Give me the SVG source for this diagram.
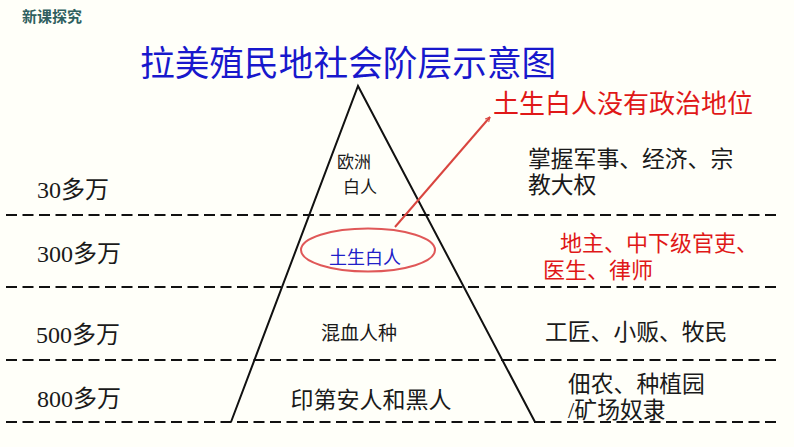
<svg xmlns="http://www.w3.org/2000/svg" width="794" height="447" viewBox="0 0 794 447">
<defs>
<style>
.bg{fill:#fffff9}
.dash{stroke:#111;stroke-width:2;stroke-dasharray:11 5.5;fill:none}
.tri{stroke:#111;stroke-width:2;fill:none}
.blk{font-family:"Liberation Serif","Noto Sans CJK SC",serif;fill:#1a1a1a}
.cn{font-family:"Noto Sans CJK SC","Liberation Sans",sans-serif}
</style>
<marker id="ah" viewBox="0 0 10 10" refX="9" refY="5" markerWidth="6" markerHeight="6" orient="auto" markerUnits="userSpaceOnUse">
<path d="M1,1 L9,5 L1,9" fill="none" stroke="#d9453f" stroke-width="1.6"/>
</marker>
</defs>
<rect class="bg" x="0" y="0" width="794" height="447"/>
<text x="22" y="22" font-family="Noto Sans CJK SC,sans-serif" font-size="15" font-weight="bold" fill="#2f5f5f">新课探究</text>
<text x="140" y="76" class="cn" font-size="34.7" fill="#1818cc">拉美殖民地社会阶层示意图</text>

<g id="levels">
<line class="dash" x1="6" y1="215" x2="776" y2="215"/>
<line class="dash" x1="6" y1="287" x2="776" y2="287"/>
<line class="dash" x1="6" y1="360" x2="776" y2="360"/>
<line class="dash" x1="6" y1="422" x2="776" y2="422"/>
</g>

<g id="pyramid">
<polyline class="tri" points="231,422 358,86 535,422"/>
</g>

<g id="left-labels" class="blk" font-size="24">
<text x="37" y="198">30多万</text>
<text x="37" y="262">300多万</text>
<text x="36" y="343">500多万</text>
<text x="37" y="407">800多万</text>
</g>

<g id="node-europe" class="blk" font-size="17">
<text x="337" y="168">欧洲</text>
<text x="343" y="193">白人</text>
</g>

<g id="node-creole">
<ellipse cx="368" cy="250" rx="67" ry="21.5" fill="none" stroke="#e05858" stroke-width="2"/>
<text x="365" y="264" text-anchor="middle" class="cn" font-size="18" fill="#2020c8">土生白人</text>
</g>

<g id="node-mestizo">
<text x="359" y="340" text-anchor="middle" class="blk" font-size="19">混血人种</text>
</g>

<g id="node-indian">
<text x="371" y="408" text-anchor="middle" class="blk" font-size="23">印第安人和黑人</text>
</g>

<g id="connectors">
<line x1="395" y1="227" x2="490" y2="117" stroke="#d9453f" stroke-width="2" marker-end="url(#ah)"/>
</g>

<g id="note-political">
<text x="493" y="113" class="cn" font-size="26" fill="#e01818">土生白人没有政治地位</text>
</g>

<g id="right-labels" class="blk" font-size="22.8">
<text x="528" y="167">掌握军事、经济、宗</text>
<text x="528" y="193">教大权</text>
<text x="560" y="251" fill="#e01818" font-size="22">地主、中下级官吏、</text>
<text x="543" y="278" fill="#e01818" font-size="22">医生、律师</text>
<text x="545" y="340">工匠、小贩、牧民</text>
<text x="568" y="392">佃农、种植园</text>
<text x="568" y="418">/矿场奴隶</text>
</g>
</svg>
